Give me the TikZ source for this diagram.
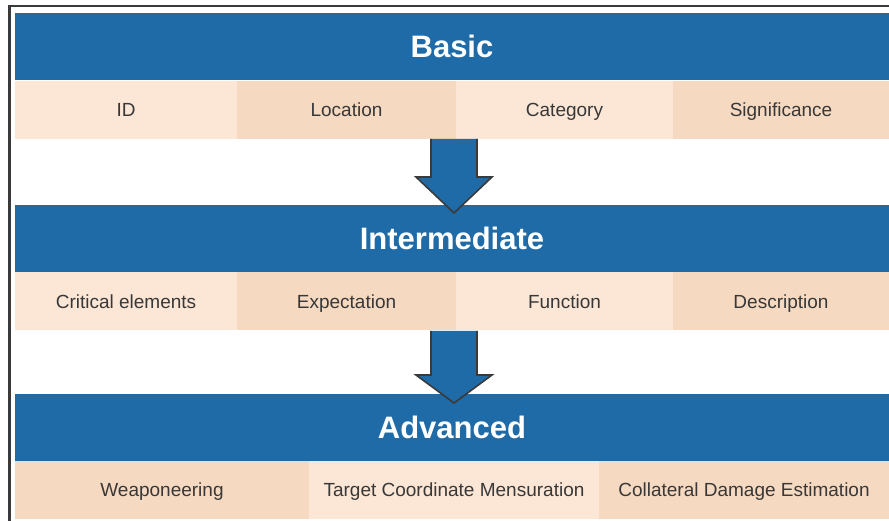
\documentclass[tikz,border=0pt]{standalone}
\usepackage{fontspec}
\setmainfont{Liberation Sans}
\definecolor{bandblue}{HTML}{1F6BA7}
\definecolor{celllight}{HTML}{FCE6D5}
\definecolor{celldark}{HTML}{F6D9C1}
\definecolor{celltext}{HTML}{383838}
\definecolor{edgegray}{HTML}{3A3A3A}
\begin{document}
\begin{tikzpicture}[x=1pt,y=-1pt,
    band/.style={fill=bandblue, text=white, inner sep=0pt,
      minimum width=874pt, minimum height=67pt,
      text height=22pt, text depth=0pt,
      font=\fontsize{31}{36}\selectfont\bfseries},
    cell/.style={text=celltext, inner sep=0pt, minimum height=58pt,
      text height=13.6pt, text depth=0pt,
      font=\fontsize{19}{23}\selectfont},
    lightcell/.style={cell, fill=celllight},
    darkcell/.style={cell, fill=celldark},
    downarrow/.style={fill=bandblue, draw=edgegray, line width=1.6pt, line join=miter}]
  \useasboundingbox (0,0) rectangle (889,521);
  % frame
  \draw[edgegray, line width=2.5pt] (9.5,521) -- (9.5,6) -- (889,6);

  % basic
  \node[band] (basic) at (452,46.5) {Basic};
  \node[lightcell, minimum width=222pt] (id) at (126,110) {ID};
  \node[darkcell, minimum width=219pt] (location) at (346.5,110) {Location};
  \node[lightcell, minimum width=217pt] (category) at (564.5,110) {Category};
  \node[darkcell, minimum width=216pt] (significance) at (781,110) {Significance};

  % intermediate
  \node[band] (intermediate) at (452,238.5) {Intermediate};
  \node[lightcell, minimum width=222pt] (critical) at (126,301.5) {Critical elements};
  \node[darkcell, minimum width=219pt] (expectation) at (346.5,301.5) {Expectation};
  \node[lightcell, minimum width=217pt] (function) at (564.5,301.5) {Function};
  \node[darkcell, minimum width=216pt] (description) at (781,301.5) {Description};

  % advanced
  \node[band] (advanced) at (452,427.5) {Advanced};
  \node[darkcell, minimum width=294pt] (weaponeering) at (162,490) {Weaponeering};
  \node[lightcell, minimum width=290pt] (mensuration) at (454,490) {Target Coordinate Mensuration};
  \node[darkcell, minimum width=290pt] (cde) at (744,490) {Collateral Damage Estimation};

  % arrows
  \draw[downarrow] (431,139) -- (431,177) -- (416,177) -- (454,213)
    -- (492,177) -- (477,177) -- (477,139);
  \draw[downarrow] (431,331) -- (431,375) -- (416,375) -- (454,403)
    -- (492,375) -- (477,375) -- (477,331);
\end{tikzpicture}
\end{document}
